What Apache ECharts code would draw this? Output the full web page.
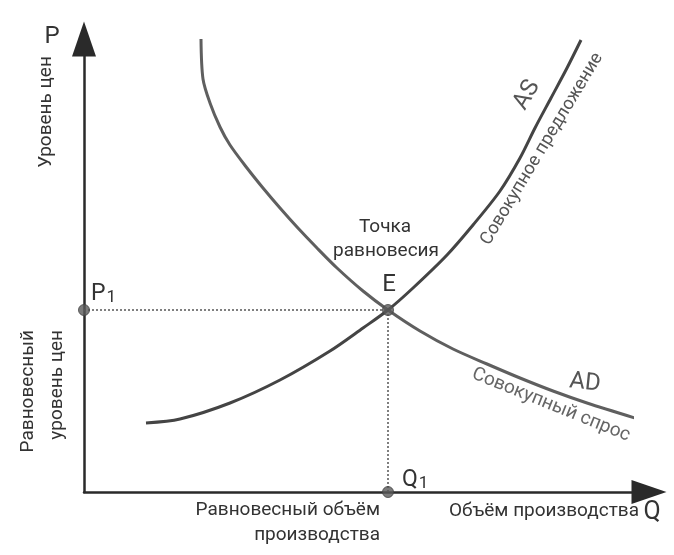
<!DOCTYPE html>
<html>
<head>
<meta charset="utf-8">
<script src="https://cdn.jsdelivr.net/npm/echarts@6/dist/echarts.min.js"></script>
<style>
  html, body { margin: 0; padding: 0; background: #fff; }
  #chart { width: 674px; height: 555px; }
</style>
</head>
<body>
<div id="chart"></div>
<script>
// кривая совокупного спроса AD (x — объём, y — уровень цен)
const adX = [117, 119, 126, 136, 146, 163, 179, 196, 213, 233, 253, 279, 304, 336, 369, 403, 436, 469, 503, 551];
const adY = [453, 413, 389, 365, 347, 324, 304, 284, 265, 244, 224, 201, 182, 161, 143, 128, 114, 101, 89, 74];
// кривая совокупного предложения AS
const asX = [62, 96, 146, 196, 246, 279, 304, 329, 363, 389, 416, 436, 451, 467, 483, 497];
const asY = [69, 73, 89, 112, 141, 164, 182, 204, 237, 267, 301, 334, 364, 394, 424, 452];
// точка равновесия
const eqQ = 304;
const eqP = 182;

const font = 'Roboto, "Liberation Sans", sans-serif';
const dark = '#2a2a2a';

const myChart = echarts.init(document.getElementById('chart'));

const zip = (xs, ys) => xs.map((x, i) => [x, ys[i]]);

function txt(text, x, y, size, opts) {
    opts = opts || {};
    return {
        type: 'text',
        x: x,
        y: y,
        rotation: (opts.rot || 0) * Math.PI / 180,
        z: 20,
        style: {
            text: text,
            fill: opts.color || '#333',
            font: size + 'px ' + font,
            textAlign: opts.align || 'center',
            textVerticalAlign: 'middle',
            rich: opts.rich
        }
    };
}

const subRich = {
    m: { fontSize: 23, fontFamily: font, fill: '#333' },
    s: { fontSize: 17, fontFamily: font, fill: '#333', padding: [8, 0, 0, 1] }
};

const option = {
    animation: false,
    backgroundColor: '#fff',
    grid: { left: 84, right: 42, top: 56, bottom: 63 },
    xAxis: {
        type: 'value',
        min: 0,
        max: 548,
        axisLine: {
            show: true,
            onZero: true,
            symbol: ['none', 'triangle'],
            symbolSize: [24, 35],
            symbolOffset: [0, 17],
            lineStyle: { color: dark, width: 2.5 }
        },
        axisTick: { show: false },
        axisLabel: { show: false },
        splitLine: { show: false }
    },
    yAxis: {
        type: 'value',
        min: 0,
        max: 436,
        axisLine: {
            show: true,
            onZero: true,
            symbol: ['none', 'triangle'],
            symbolSize: [24, 35],
            symbolOffset: [0, 17],
            lineStyle: { color: dark, width: 2.5 }
        },
        axisTick: { show: false },
        axisLabel: { show: false },
        splitLine: { show: false }
    },
    series: [
        {
            name: 'P1',
            type: 'line',
            data: [[0, eqP], [eqQ, eqP]],
            symbol: 'none',
            clip: false,
            lineStyle: { color: '#555', width: 1.5, type: [2, 2] }
        },
        {
            name: 'Q1',
            type: 'line',
            data: [[eqQ, 0], [eqQ, eqP]],
            symbol: 'none',
            clip: false,
            lineStyle: { color: '#555', width: 1.5, type: [2, 2] }
        },
        {
            name: 'AD',
            type: 'line',
            data: zip(adX, adY),
            smooth: 0.3,
            symbol: 'none',
            clip: false,
            lineStyle: { color: '#5f5f5f', width: 3 }
        },
        {
            name: 'AS',
            type: 'line',
            data: zip(asX, asY),
            smooth: 0.3,
            symbol: 'none',
            clip: false,
            lineStyle: { color: '#444', width: 3 }
        },
        {
            name: 'points',
            type: 'scatter',
            data: [[0, eqP], [eqQ, 0], [eqQ, eqP]],
            symbolSize: 11,
            clip: false,
            z: 5,
            itemStyle: { color: '#5a5a5a', borderColor: '#444', borderWidth: 1 }
        }
    ],
    graphic: [
        txt('P', 52, 37, 24),
        txt('Уровень цен', 46, 112, 19, { rot: 90 }),
        txt('{m|P}{s|1}', 91, 294, 23, { align: 'left', rich: subRich }),
        txt('Равновесный', 28, 330, 19, { rot: 90, align: 'right' }),
        txt('уровень цен', 57, 330, 19, { rot: 90, align: 'right' }),
        txt('Точка', 385, 227, 19),
        txt('равновесия', 386, 251, 19),
        txt('E', 389, 285, 24),
        txt('AS', 527, 95, 24, { rot: 60, color: '#555' }),
        txt('Совокупное предложение', 542, 149, 18, { rot: 59, color: '#555' }),
        txt('AD', 585, 383, 24, { rot: -6, color: '#555' }),
        txt('Совокупный спрос', 551, 405, 19, { rot: -22, color: '#666' }),
        txt('{m|Q}{s|1}', 402, 480, 23, { align: 'left', rich: subRich }),
        txt('Равновесный объём', 380, 510, 19, { align: 'right' }),
        txt('производства', 380, 535, 19, { align: 'right' }),
        txt('Объём производства', 639, 511, 19, { align: 'right' }),
        txt('Q', 652, 513, 25)
    ]
};

myChart.setOption(option);
window.addEventListener('resize', () => {
    myChart.resize();
});
</script>
</body>
</html>
